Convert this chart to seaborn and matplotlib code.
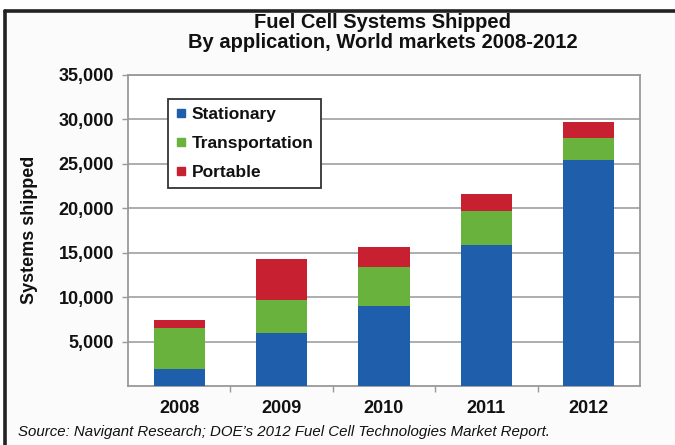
import matplotlib
matplotlib.use("Agg")
import matplotlib.pyplot as plt
from matplotlib.lines import Line2D
from matplotlib.patches import Rectangle
from matplotlib.ticker import FuncFormatter, FixedLocator
import seaborn as sns
import pandas as pd

# Shipments by application (units)
years = ["2008", "2009", "2010", "2011", "2012"]
stationary = [1950, 5950, 9000, 15850, 25400]
transportation = [4600, 3700, 4350, 3800, 2450]
portable = [900, 4600, 2300, 1950, 1800]
series_names = ["Stationary", "Transportation", "Portable"]
colors = ["#1e5eaa", "#6ab23e", "#c62031"]

y_ticks = [5000, 10000, 15000, 20000, 25000, 30000, 35000]

df = pd.DataFrame({
    "year": years,
    "Stationary": stationary,
    "Transportation": transportation,
    "Portable": portable,
})
df["s_top"] = df["Stationary"]
df["t_top"] = df["s_top"] + df["Transportation"]
df["p_top"] = df["t_top"] + df["Portable"]

sns.set_theme(style="white")
plt.rcParams["font.family"] = ["Liberation Sans", "DejaVu Sans"]

W, H = 675, 445
fig = plt.figure(figsize=(W / 100, H / 100), dpi=100, facecolor="#fbfbfb")

# white margin above and left of the frame
fig.add_artist(Rectangle((0, (H - 9) / H), 1, 9 / H, transform=fig.transFigure,
                         facecolor="white", edgecolor="none", zorder=-1))
fig.add_artist(Rectangle((0, 0), 3 / W, 1, transform=fig.transFigure,
                         facecolor="white", edgecolor="none", zorder=-1))
# dark outer frame (top and left edges)
fig.add_artist(Line2D([4.5 / W, 1], [(H - 10.5) / H] * 2, transform=fig.transFigure,
                      color="#222222", lw=2.6))
fig.add_artist(Line2D([4.5 / W] * 2, [0, (H - 10.5) / H], transform=fig.transFigure,
                      color="#222222", lw=2.6))

left, right = 128 / W, 640 / W
bottom, top = 1 - 386.2 / H, 1 - 74.7 / H
ax = fig.add_axes([left, bottom, right - left, top - bottom])
ax.set_facecolor("white")

# stacked bars: draw cumulative totals, tallest first
for col, c in zip(["p_top", "t_top", "s_top"], colors[::-1]):
    sns.barplot(data=df, x="year", y=col, order=years, color=c, saturation=1,
                width=0.5, linewidth=0, ax=ax, zorder=3)

ax.set_ylim(0, 35000)
ax.set_xlim(-0.5, len(years) - 0.5)
ax.yaxis.set_major_locator(FixedLocator(y_ticks))
ax.yaxis.set_major_formatter(FuncFormatter(lambda v, p: f"{int(v):,}"))
ax.grid(axis="y", color="#a0a0a0", lw=1.2, zorder=0)
ax.set_axisbelow(True)

for s in ax.spines.values():
    s.set_color("#999999")
    s.set_linewidth(1.3)
    s.set_visible(True)

ax.tick_params(axis="y", which="major", left=True, length=4, width=1, color="#999999",
               labelsize=13, pad=6)
ax.tick_params(axis="x", which="major", bottom=False, labelsize=13, pad=4)
ax.xaxis.set_minor_locator(FixedLocator([i + 0.5 for i in range(len(years) - 1)]))
ax.tick_params(axis="x", which="minor", bottom=True, length=4, width=1, color="#999999")
for lab in ax.get_xticklabels() + ax.get_yticklabels():
    lab.set_fontweight("bold")
    lab.set_color("#111111")

ax.set_xlabel("")
ax.set_ylabel("")
fig.text(30 / W, 1 - 230 / H, "Systems shipped", rotation=90, ha="center", va="center",
         fontsize=13, fontweight="bold", color="#111111")

handles = [Line2D([], [], marker="s", linestyle="none", markersize=5.5,
                  markerfacecolor=c, markeredgecolor=c) for c in colors]
leg = ax.legend(handles, series_names, loc="upper left",
                bbox_to_anchor=((168 - 128) / 512, (386.2 - 99) / 311.5),
                borderaxespad=0, frameon=True, fancybox=False, framealpha=1,
                edgecolor="#333333", facecolor="white", handlelength=0.6,
                handletextpad=0.3, labelspacing=0.8, borderpad=0.45,
                prop={"size": 12.5, "weight": "bold"})
leg.get_frame().set_linewidth(1.3)
for t in leg.get_texts():
    t.set_color("#111111")

fig.text(383 / W, 1 - 28 / H, "Fuel Cell Systems Shipped", ha="center", va="baseline",
         fontsize=14.5, fontweight="bold", color="#111111")
fig.text(383 / W, 1 - 48.5 / H, "By application, World markets 2008-2012", ha="center",
         va="baseline", fontsize=14.5, fontweight="bold", color="#111111")

fig.text(18 / W, 1 - 432 / H,
         "Source: Navigant Research; DOE\u2019s 2012 Fuel Cell Technologies Market Report.",
         ha="left", va="center", fontsize=10.8, style="italic", color="#111111")

fig.savefig("out.png", dpi=100, facecolor=fig.get_facecolor())
